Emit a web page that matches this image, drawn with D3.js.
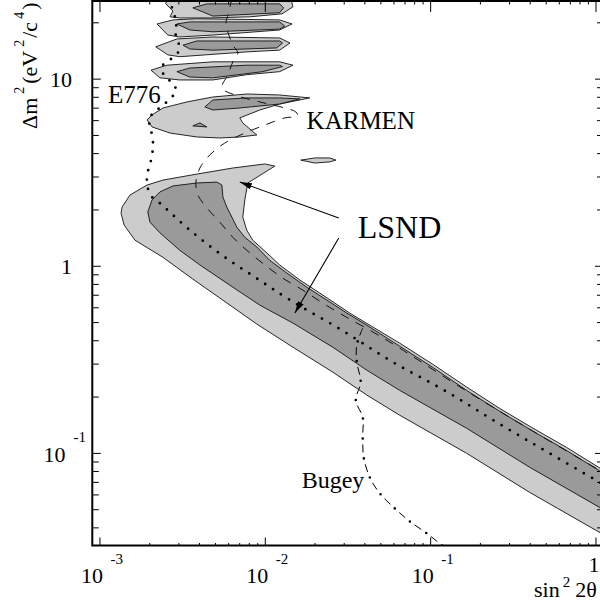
<!DOCTYPE html>
<html lang="en">
<head>
<meta charset="UTF-8">
<title>LSND allowed region</title>
<script src="https://d3js.org/d3.v7.min.js"></script>
<style>
    body { margin: 0; background: #fff; }
    svg { display: block; }
    text { font-family: "Liberation Serif", "Times New Roman", serif; fill: #000; }
</style>
</head>
<body>
<svg id="chart" width="600" height="607"></svg>
<script>
// ---- data: [sin^2 2theta, delta m^2 (eV^2/c^4)] ----
const lsndOuter = [[0.0115,3.41],[0.0100,3.50],[0.00641,3.33],[0.00388,3.09],[0.00242,2.87],[0.00194,2.70],[0.00153,2.39],[0.00137,2.06],[0.00135,1.91],[0.00141,1.65],[0.00164,1.37],[0.00242,1.11],[0.00367,0.849],[0.00535,0.672],[0.00895,0.488],[0.0148,0.367],[0.0258,0.270],[0.0413,0.204],[0.0654,0.159],[0.166,0.0996],[0.399,0.0616],[1.22,0.035],[1.22,0.0769],[0.668,0.107],[0.416,0.136],[0.263,0.173],[0.166,0.225],[0.1035,0.298],[0.0654,0.386],[0.0326,0.559],[0.0215,0.715],[0.0163,0.839],[0.0123,1.01],[0.0103,1.17],[0.00846,1.37],[0.00778,1.55],[0.00736,1.82],[0.00757,2.25],[0.00789,2.77]];
const lsndInner = [[0.00196,1.94],[0.00208,2.25],[0.00232,2.48],[0.00278,2.67],[0.00388,2.77],[0.00513,2.80],[0.00550,2.70],[0.00558,2.33],[0.00589,2.06],[0.00632,1.82],[0.00677,1.61],[0.00757,1.42],[0.00895,1.26],[0.0107,1.07],[0.0136,0.914],[0.0179,0.769],[0.0237,0.656],[0.0313,0.559],[0.0413,0.482],[0.0654,0.372],[0.1035,0.287],[0.166,0.216],[0.263,0.167],[0.416,0.131],[0.668,0.103],[1.22,0.0742],[1.22,0.0476],[0.399,0.0839],[0.166,0.1355],[0.0654,0.216],[0.0413,0.277],[0.0258,0.367],[0.0148,0.494],[0.00933,0.616],[0.00614,0.788],[0.00405,1.01],[0.00306,1.21],[0.00232,1.50],[0.00202,1.71]];

// high delta m^2 islands
const islandsLight = [
    [[0.00256,28.0],[0.0142,28.0],[0.0148,24.2],[0.0127,22.2],[0.00812,21.4],[0.00465,21.1],[0.00306,21.1],[0.00267,21.4],[0.00278,23.0],[0.00252,25.1]],
    [[0.00223,19.6],[0.00278,20.6],[0.00388,20.9],[0.0123,20.6],[0.0146,19.6],[0.0123,18.2],[0.00485,17.1],[0.00306,16.7],[0.00259,17.1]],
    [[0.00219,14.8],[0.00294,16.3],[0.00485,16.7],[0.0123,16.5],[0.0142,15.5],[0.0123,14.2],[0.00778,13.9],[0.00306,13.1],[0.00259,13.4]],
    [[0.00205,11.1],[0.00256,11.8],[0.00485,12.3],[0.0123,12.3],[0.0148,11.8],[0.0123,10.9],[0.00778,10.5],[0.00485,9.84],[0.00306,9.84],[0.00232,10.1]],
    [[0.0187,7.89],[0.0123,8.18],[0.00778,8.28],[0.00485,7.98],[0.00338,7.51],[0.00242,6.97],[0.00208,6.40],[0.00194,6.01],[0.00208,5.52],[0.00267,5.12],[0.00388,4.88],[0.00535,4.82],[0.00706,4.88],[0.00895,5.00],[0.00736,5.80],[0.00706,6.17],[0.00933,6.80],[0.0123,7.32]],
    [[0.0165,3.67],[0.0201,3.77],[0.0247,3.77],[0.0269,3.67],[0.0247,3.59],[0.0201,3.54]]
];
const islandsDark = [
    [[0.00367,23.9],[0.00446,25.1],[0.0123,25.1],[0.0130,23.9],[0.0123,22.5],[0.00485,21.6]],
    [[0.00294,19.6],[0.00352,20.1],[0.0123,20.1],[0.0132,19.1],[0.0123,18.4],[0.00485,17.8],[0.00352,18.2]],
    [[0.00320,15.1],[0.00388,15.9],[0.0123,15.9],[0.0128,15.5],[0.0118,14.6],[0.00485,14.2],[0.00352,14.4]],
    [[0.00294,10.9],[0.00352,11.4],[0.00778,11.8],[0.0123,11.8],[0.0128,11.6],[0.00973,10.9],[0.00485,10.1],[0.00352,10.2]],
    [[0.00434,7.06],[0.00485,7.69],[0.00778,7.89],[0.0123,7.89],[0.0163,7.79],[0.0123,7.32],[0.00706,6.97],[0.00485,6.80]],
    [[0.00367,5.59],[0.00405,5.80],[0.00446,5.52]]
];

// exclusion curves
const e776 = [[0.00270,27.0],[0.00278,22.7],[0.00294,20.1],[0.00286,18.2],[0.00294,16.3],[0.00306,14.4],[0.00282,13.1],[0.00259,12.4],[0.00239,11.6],[0.00249,10.2],[0.00278,9.48],[0.00290,8.60],[0.00267,7.79],[0.00239,7.15],[0.00216,6.64],[0.00199,6.09],[0.00205,5.32],[0.00211,4.42],[0.00205,3.67],[0.00196,3.17],[0.00194,2.70],[0.00208,2.33],[0.00232,2.16],[0.00352,1.55],[0.00550,1.14],[0.00870,0.870],[0.0142,0.656],[0.0292,0.453],[0.0593,0.306],[0.124,0.214],[0.252,0.146],[0.527,0.0996],[1.22,0.0648]];
const karmen = [[0.00632,27.0],[0.00606,22.7],[0.00581,19.6],[0.00606,17.1],[0.00641,15.1],[0.00687,13.7],[0.00641,12.3],[0.00598,10.5],[0.00550,8.92],[0.00659,8.18],[0.00933,7.51],[0.0132,6.97],[0.0154,6.64],[0.0158,6.32],[0.0132,6.17],[0.0100,5.65],[0.00757,5.12],[0.00573,4.53],[0.00465,3.91],[0.00405,3.33],[0.00383,2.80],[0.00394,2.39],[0.00446,2.04],[0.00535,1.71],[0.00641,1.42],[0.00778,1.21],[0.00973,1.03],[0.0128,0.860],[0.0170,0.741],[0.0224,0.632],[0.0304,0.538],[0.0462,0.437],[0.0654,0.363],[0.166,0.214],[0.399,0.134],[1.22,0.0751]];
const bugey = [[0.0391,0.464],[0.0360,0.377],[0.0360,0.306],[0.0380,0.239],[0.0355,0.191],[0.0391,0.155],[0.0391,0.121],[0.0396,0.0948],[0.0431,0.0742],[0.0495,0.0609],[0.0610,0.0506],[0.0752,0.0431],[0.0953,0.0372],[0.124,0.0309]];

// annotations
const labels = [
    {text: "E776", at: [1.125e-3, 7.42], size: 25},
    {text: "KARMEN", at: [0.0179, 5.38], size: 25},
    {text: "LSND", at: [0.0365, 1.406], size: 32},
    {text: "Bugey", at: [0.0167, 0.0648], size: 24}
];
const arrows = [
    {from: [0.0280, 1.80], to: [0.00706, 2.80]},
    {from: [0.0280, 1.406], to: [0.0152, 0.559]}
];
const xMajor = [1e-3, 1e-2, 1e-1, 1];
const yMajor = [0.1, 1, 10];

// ---- layout ----
const m = {l: 92.3, r: 602, t: 1, b: 545.5};
const x = d3.scaleLog().domain([9.05e-4, 1.095]).range([m.l, m.r]);
const y = d3.scaleLog().domain([0.032, 26]).range([m.b, m.t]);
const LIGHT = '#cccccc', DARK = '#9a9a9a';

const svg = d3.select('#chart');
svg.append('rect').attr('width', 600).attr('height', 607).attr('fill', '#fff');

const defs = svg.append('defs');
defs.append('clipPath').attr('id', 'plotclip')
    .append('rect').attr('x', m.l).attr('y', m.t).attr('width', m.r - m.l).attr('height', m.b - m.t);
defs.append('marker').attr('id', 'arrowhead')
    .attr('markerUnits', 'userSpaceOnUse')
    .attr('markerWidth', 13).attr('markerHeight', 8)
    .attr('refX', 12).attr('refY', 4).attr('orient', 'auto')
    .append('path').attr('d', 'M0,0.8 L12,4 L0,7.2 Z').attr('fill', '#000');

const poly = d3.line().x(d => x(d[0])).y(d => y(d[1]));
const curve = d3.line().x(d => x(d[0])).y(d => y(d[1])).curve(d3.curveCatmullRom.alpha(0.5));

const plot = svg.append('g').attr('clip-path', 'url(#plotclip)');

function region(data, fill) {
    plot.append('path').attr('d', poly(data) + 'Z')
        .attr('fill', fill).attr('stroke', '#111').attr('stroke-width', 0.9)
        .attr('stroke-linejoin', 'round');
}
region(lsndOuter, LIGHT);
region(lsndInner, DARK);
islandsLight.forEach(d => region(d, LIGHT));
islandsDark.forEach(d => region(d, DARK));

// E776 dotted
plot.append('path').attr('d', curve(e776)).attr('fill', 'none')
    .attr('stroke', '#000').attr('stroke-width', 2.8)
    .attr('stroke-linecap', 'round').attr('stroke-dasharray', '0,9.5');
// KARMEN dashed
plot.append('path').attr('d', curve(karmen)).attr('fill', 'none')
    .attr('stroke', '#111').attr('stroke-width', 1)
    .attr('stroke-dasharray', '9,8');
// Bugey dash-dot
plot.append('path').attr('d', curve(bugey)).attr('fill', 'none')
    .attr('stroke', '#000').attr('stroke-width', 1)
    .attr('stroke-dasharray', '8,12');
plot.append('path').attr('d', curve(bugey)).attr('fill', 'none')
    .attr('stroke', '#000').attr('stroke-width', 2.6)
    .attr('stroke-linecap', 'round')
    .attr('stroke-dasharray', '0,20').attr('stroke-dashoffset', 6);

// arrows
arrows.forEach(a => {
    svg.append('line')
        .attr('x1', x(a.from[0])).attr('y1', y(a.from[1]))
        .attr('x2', x(a.to[0])).attr('y2', y(a.to[1]))
        .attr('stroke', '#000').attr('stroke-width', 1.1)
        .attr('marker-end', 'url(#arrowhead)');
});

// text labels
labels.forEach(l => {
    svg.append('text').attr('x', x(l.at[0])).attr('y', y(l.at[1]))
        .attr('font-family', 'Liberation Serif')
        .attr('font-size', l.size).text(l.text);
});

// ---- axes ----
const isMajor = v => Math.abs(Math.log10(v) - Math.round(Math.log10(v))) < 1e-6;
const xt = x.ticks().filter(v => v <= 1);
const yt = y.ticks();

function ticks(g, axis, vals, size) {
    const a = axis.tickValues(vals).tickSize(size).tickFormat('');
    g.call(a);
    g.select('.domain').remove();
    g.selectAll('line').attr('stroke', '#000').attr('stroke-width', 1);
}
const axes = svg.append('g');
ticks(axes.append('g').attr('transform', `translate(0,${m.b})`), d3.axisBottom(x), xt.filter(v => !isMajor(v)), -2.5);
ticks(axes.append('g').attr('transform', `translate(0,${m.b})`), d3.axisBottom(x), xt.filter(isMajor), -8);
ticks(axes.append('g').attr('transform', `translate(0,${m.t})`), d3.axisTop(x), xt.filter(v => !isMajor(v)), -3.5);
ticks(axes.append('g').attr('transform', `translate(0,${m.t})`), d3.axisTop(x), xt.filter(isMajor), -11);
ticks(axes.append('g').attr('transform', `translate(${m.l},0)`), d3.axisLeft(y), yt.filter(v => !isMajor(v)), -6.5);
ticks(axes.append('g').attr('transform', `translate(${m.l},0)`), d3.axisLeft(y), yt.filter(isMajor), -8.5);
ticks(axes.append('g').attr('transform', `translate(${m.r},0)`), d3.axisRight(y), yt.filter(v => !isMajor(v)), -5);
ticks(axes.append('g').attr('transform', `translate(${m.r},0)`), d3.axisRight(y), yt.filter(isMajor), -7);

axes.append('rect').attr('x', m.l).attr('y', m.t).attr('width', m.r - m.l).attr('height', m.b - m.t)
    .attr('fill', 'none').attr('stroke', '#000').attr('stroke-width', 2);

// x tick labels
xMajor.forEach(v => {
    const e = Math.round(Math.log10(v));
    const px = x(v);
    if (e === 0) {
        svg.append('text').attr('x', px - 1.5).attr('y', 572).attr('text-anchor', 'middle')
            .attr('font-family', 'Liberation Serif').attr('font-size', 22).text('1');
        return;
    }
    svg.append('text').attr('x', px + 3.5).attr('y', 583).attr('text-anchor', 'end')
        .attr('font-family', 'Liberation Serif').attr('font-size', 22).text('10');
    svg.append('text').attr('x', px + 11).attr('y', 564)
        .attr('font-family', 'Liberation Serif').attr('font-size', 15).text(String(e));
});
// y tick labels
yMajor.forEach(v => {
    const e = Math.round(Math.log10(v));
    const py = y(v);
    if (e >= 0) {
        svg.append('text').attr('x', 72).attr('y', py + 8.5).attr('text-anchor', 'end')
            .attr('font-family', 'Liberation Serif').attr('font-size', 22).text(e === 0 ? '1' : '10');
    } else {
        svg.append('text').attr('x', 65.5).attr('y', py + 9.5).attr('text-anchor', 'end')
            .attr('font-family', 'Liberation Serif').attr('font-size', 22).text('10');
        svg.append('text').attr('x', 73.5).attr('y', py - 10.5)
            .attr('font-family', 'Liberation Serif').attr('font-size', 15).text(String(e));
    }
});

// axis titles
const yt1 = svg.append('text').attr('transform', 'translate(37,129) rotate(-90)')
    .attr('font-family', 'Liberation Serif').attr('font-size', 22);
yt1.append('tspan').text('\u0394m');
yt1.append('tspan').attr('dx', 4).attr('dy', -13).attr('font-size', 14).text('2');
yt1.append('tspan').attr('dx', 3).attr('dy', 13).text('(eV');
yt1.append('tspan').attr('dx', 4).attr('dy', -13).attr('font-size', 14).text('2');
yt1.append('tspan').attr('dx', 2).attr('dy', 13).text('/c');
yt1.append('tspan').attr('dx', 3).attr('dy', -13).attr('font-size', 14).text('4');
yt1.append('tspan').attr('dx', 2).attr('dy', 13).text(')');

const xt1 = svg.append('text').attr('x', 534).attr('y', 597)
    .attr('font-family', 'Liberation Serif').attr('font-size', 22);
xt1.append('tspan').text('sin');
xt1.append('tspan').attr('dx', 3).attr('dy', -10).attr('font-size', 15).text('2');
xt1.append('tspan').attr('dx', 5).attr('dy', 10).text('2\u03b8');
</script>
</body>
</html>
